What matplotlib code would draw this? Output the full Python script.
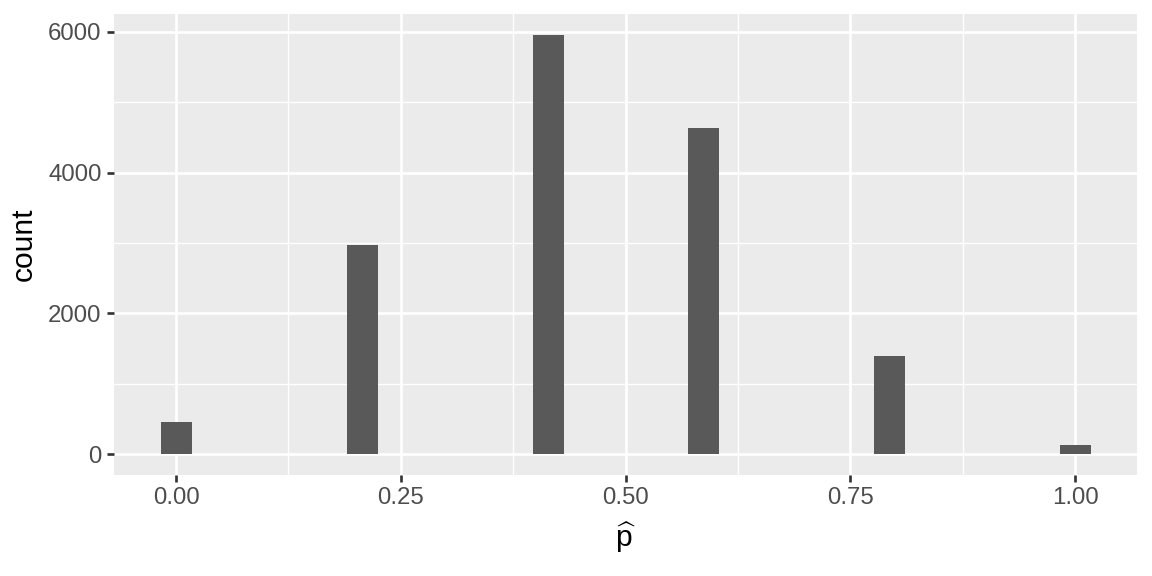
import numpy as np
import matplotlib.pyplot as plt

plt.rcParams["font.family"] = ["Liberation Sans", "DejaVu Sans"]
plt.rcParams["mathtext.fontset"] = "custom"
plt.rcParams["mathtext.rm"] = "Liberation Sans"
plt.rcParams["mathtext.it"] = "Liberation Sans"

# sample proportions and how many times each came up
phat = [0.0, 0.2, 0.4, 0.6, 0.8, 1.0]
counts = [455, 2972, 5958, 4636, 1394, 128]

xticks = [0.0, 0.25, 0.5, 0.75, 1.0]
xtick_labels = ["0.00", "0.25", "0.50", "0.75", "1.00"]
yticks = [0, 2000, 4000, 6000]

# ggplot default: 30 bins over the data range, centred on the ends
nbins = 30
bw = (max(phat) - min(phat)) / (nbins - 1)
edges = np.linspace(min(phat) - bw / 2, max(phat) + bw / 2, nbins + 1)

fig = plt.figure(figsize=(6.4, 3.2), dpi=180)
ax = fig.add_axes([0.099, 0.1753, 0.888, 0.8004])
ax.set_facecolor("#EBEBEB")

ax.hist(phat, bins=edges, weights=counts, color="#595959", zorder=3)

xr = edges[-1] - edges[0]
ax.set_xlim(edges[0] - 0.05 * xr, edges[-1] + 0.05 * xr)
ymax = max(counts)
ax.set_ylim(-0.05 * ymax, 1.05 * ymax)

ax.set_xticks(xticks)
ax.set_xticklabels(xtick_labels)
ax.set_yticks(yticks)
ax.set_xticks([0.125, 0.375, 0.625, 0.875], minor=True)
ax.set_yticks([1000, 3000, 5000], minor=True)

ax.grid(which="major", color="white", linewidth=1.07, zorder=1)
ax.grid(which="minor", color="white", linewidth=0.53, zorder=1)
ax.set_axisbelow(True)

for s in ax.spines.values():
    s.set_visible(False)

ax.tick_params(which="major", length=2.75, width=1.07, color="#333333",
               labelsize=9.6, labelcolor="#4D4D4D", pad=2.2)
ax.tick_params(which="minor", length=0)

ax.set_xlabel(r"$\widehat{\mathrm{p}}$", fontsize=12, labelpad=4)
ax.set_ylabel("count", fontsize=12, labelpad=4)

fig.savefig("out.png", dpi=180)
